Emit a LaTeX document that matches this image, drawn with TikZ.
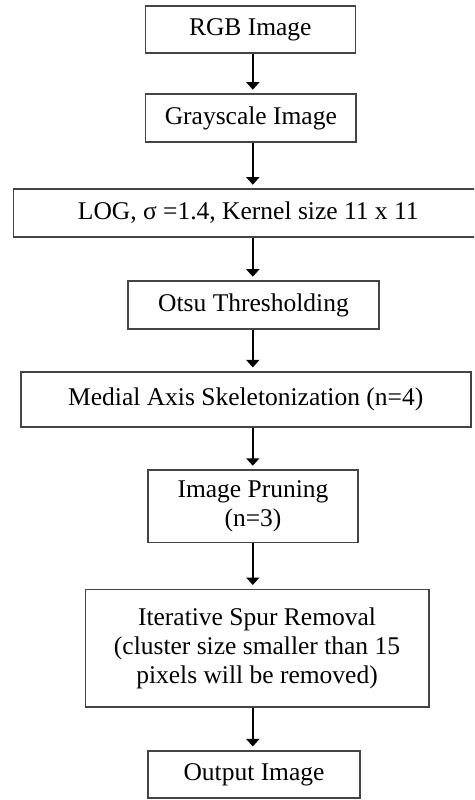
\documentclass[tikz,border=0pt]{standalone}
\usepackage{fontspec}
\setmainfont{Liberation Serif}
\usetikzlibrary{arrows.meta}
\definecolor{boxline}{HTML}{444444}
\tikzset{
  stepbox/.style={draw=boxline, line width=1.6pt, fill=white, align=center, inner sep=0pt,
    font=\fontsize{25.5}{29}\selectfont, text=black},
  flow/.style={line width=1.6pt, -{Triangle[width=13pt,length=7.5pt]}, shorten >=3.5pt}
}
\begin{document}
\begin{tikzpicture}[x=1pt,y=-1pt]
\useasboundingbox (0,0) rectangle (474,800);
\clip (0,0) rectangle (474,800);
\node[stepbox, minimum width=210pt, minimum height=47.3pt] (rgb) at (250.3,29.4) {RGB Image};
\node[stepbox, minimum width=210.3pt, minimum height=48pt] (gray) at (250.8,118) {Grayscale Image};
\node[stepbox, minimum width=470pt, minimum height=48pt] (log) at (248.3,213) {LOG, σ =1.4, Kernel size 11 x 11};
\node[stepbox, minimum width=251pt, minimum height=48pt] (otsu) at (253.5,305) {Otsu Thresholding};
\node[stepbox, minimum width=450pt, minimum height=55pt] (medial) at (245.7,399.2) {Medial Axis Skeletonization (n=4)};
\node[stepbox, minimum width=210pt, minimum height=72.3pt] (prune) at (253,506.2) {Image Pruning\\(n=3)};
\node[stepbox, minimum width=343.4pt, minimum height=117.4pt] (iter) at (257,648) {Iterative Spur Removal\\(cluster size smaller than 15\\pixels will be removed)};
\node[stepbox, minimum width=212pt, minimum height=47.3pt] (out) at (254,774.4) {Output Image};
\coordinate (ax) at (252.8,0);
\draw[flow] (rgb.south -| ax) -- (gray.north -| ax);
\draw[flow] (gray.south -| ax) -- (log.north -| ax);
\draw[flow] (log.south -| ax) -- (otsu.north -| ax);
\draw[flow] (otsu.south -| ax) -- (medial.north -| ax);
\draw[flow] (medial.south -| ax) -- (prune.north -| ax);
\draw[flow] (prune.south -| ax) -- (iter.north -| ax);
\draw[flow] (iter.south -| ax) -- (out.north -| ax);
\end{tikzpicture}
\end{document}
